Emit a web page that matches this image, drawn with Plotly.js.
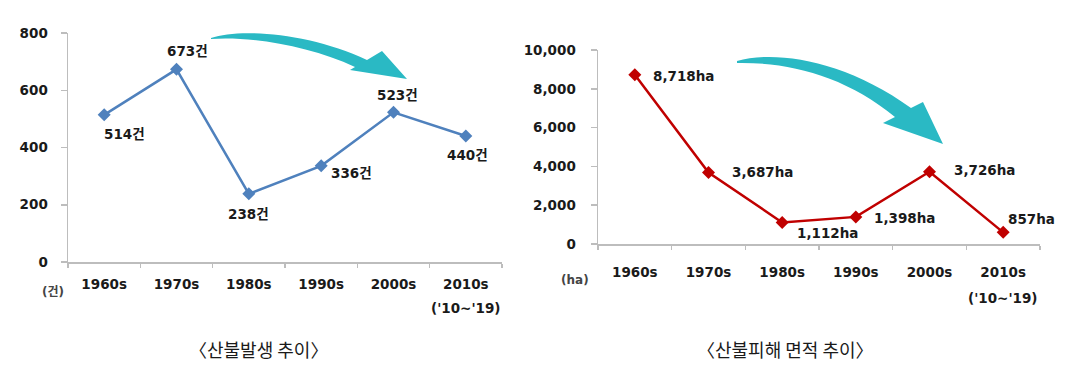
<!DOCTYPE html>
<html>
<head>
<meta charset="utf-8">
<script src="https://cdn.plot.ly/plotly-3.0.1.min.js"></script>
<style>html,body{margin:0;padding:0;background:#fff;}#chart{width:1071px;height:371px;}</style>
</head>
<body>
<div id="chart"></div>
<script>
// ---- data ----
const categories = ['1960s', '1970s', '1980s', '1990s', '2000s', '2010s'];
const periodNote = "('10~'19)";
const fireCounts = [514, 673, 238, 336, 523, 440];
const fireCountLabels = ['514건', '673건', '238건', '336건', '523건', '440건'];
// plotted positions (last point is drawn near 600 although labelled 857ha)
const damageArea = [8718, 3687, 1112, 1398, 3726, 600];
const damageLabels = ['8,718ha', '3,687ha', '1,112ha', '1,398ha', '3,726ha', '857ha'];
const leftTicks = [0, 200, 400, 600, 800];
const rightTicks = [0, 2000, 4000, 6000, 8000, 10000];
const leftUnit = '(건)';
const rightUnit = '(ha)';
const leftCaption = '〈산불발생 추이〉';
const rightCaption = '〈산불피해 면적 추이〉';

// ---- layout helpers ----
const W = 1071, H = 371;
const NUMFONT = '"DejaVu Sans", "Noto Sans CJK KR", sans-serif';
const CAPFONT = '"Noto Sans CJK KR", "Noto Sans", sans-serif';
const px = x => x / W;
const py = y => 1 - y / H;
function pathPx(cmds) {
  return cmds.map(c => {
    const L = c[0]; const pts = [];
    for (let i = 1; i < c.length; i += 2) pts.push(px(c[i]).toFixed(5) + ',' + py(c[i + 1]).toFixed(5));
    return L + ' ' + pts.join(' ');
  }).join(' ') + ' Z';
}

const leftOffsets = [[20, -19], [11, 18], [0, -20], [30, -7], [4, 17], [2, -19]];
const rightOffsets = [[16, -1], [21, 0], [13, -11], [16, -1], [22, 2], [3, 13]];

const blue = '#4F81BD';
const red = '#C00000';
const teal = '#2AB9C4';
const axisGray = '#BDBDBD';
const textCol = '#1a1a1a';
const numFont = {family: NUMFONT, size: 13.5, color: textCol, weight: 'bold'};

const traces = [
  {
    x: categories, y: fireCounts, type: 'scatter', mode: 'lines+markers',
    xaxis: 'x', yaxis: 'y',
    line: {color: blue, width: 2.5},
    marker: {symbol: 'diamond', size: 10, color: blue},
    hoverinfo: 'skip'
  },
  {
    x: categories, y: damageArea, type: 'scatter', mode: 'lines+markers',
    xaxis: 'x2', yaxis: 'y2',
    line: {color: red, width: 2.5},
    marker: {symbol: 'diamond', size: 10, color: red},
    hoverinfo: 'skip'
  }
];

const annotations = [];
categories.forEach((c, i) => {
  annotations.push({
    x: c, y: fireCounts[i], xref: 'x', yref: 'y', text: fireCountLabels[i],
    showarrow: false, xanchor: 'center', yanchor: 'middle',
    xshift: leftOffsets[i][0], yshift: leftOffsets[i][1], font: numFont
  });
  annotations.push({
    x: c, y: damageArea[i], xref: 'x2', yref: 'y2', text: damageLabels[i],
    showarrow: false, xanchor: 'left', yanchor: 'middle',
    xshift: rightOffsets[i][0], yshift: rightOffsets[i][1], font: numFont
  });
});
annotations.push({x: categories[5], y: py(308), xref: 'x', yref: 'paper', text: periodNote, showarrow: false,
  xanchor: 'center', yanchor: 'middle', font: numFont});
annotations.push({x: categories[5], y: py(298), xref: 'x2', yref: 'paper', text: periodNote, showarrow: false,
  xanchor: 'center', yanchor: 'middle', font: numFont});
annotations.push({x: px(53), y: py(292), xref: 'paper', yref: 'paper', text: leftUnit, showarrow: false,
  xanchor: 'center', yanchor: 'middle', font: {family: NUMFONT, size: 12, color: '#444', weight: 'bold'}});
annotations.push({x: px(575), y: py(280), xref: 'paper', yref: 'paper', text: rightUnit, showarrow: false,
  xanchor: 'center', yanchor: 'middle', font: {family: NUMFONT, size: 12, color: '#444', weight: 'bold'}});
annotations.push({x: px(258), y: py(349), xref: 'paper', yref: 'paper', text: leftCaption, showarrow: false,
  xanchor: 'center', yanchor: 'middle', font: {family: CAPFONT, size: 18, color: '#1a1a1a'}});
annotations.push({x: px(786), y: py(349), xref: 'paper', yref: 'paper', text: rightCaption, showarrow: false,
  xanchor: 'center', yanchor: 'middle', font: {family: CAPFONT, size: 18, color: '#1a1a1a'}});

const arrowLeft = pathPx([
  ['M', 211, 38],
  ['C', 240, 28, 310, 33, 367, 60],
  ['L', 382, 51],
  ['L', 407, 79],
  ['L', 350, 70],
  ['L', 355, 67],
  ['C', 310, 46, 250, 36, 211, 39]
]);
const arrowRight = pathPx([
  ['M', 737, 61],
  ['C', 775, 50, 845, 60, 911, 108],
  ['L', 923, 102],
  ['L', 943, 144],
  ['L', 883, 123],
  ['L', 895, 117],
  ['C', 845, 76, 790, 62, 737, 63]
]);

const shapes = [
  {type: 'path', path: arrowLeft, xref: 'paper', yref: 'paper', fillcolor: teal, line: {width: 0}},
  {type: 'path', path: arrowRight, xref: 'paper', yref: 'paper', fillcolor: teal, line: {width: 0}}
];

const xaxisBase = {
  type: 'category', range: [-0.5, 5.5], showgrid: false, zeroline: false,
  showline: true, linecolor: axisGray, linewidth: 1.5,
  ticks: 'outside', tickson: 'boundaries', ticklen: 4, tickcolor: axisGray, tickwidth: 1.5,
  tickfont: numFont, fixedrange: true
};
const yaxisBase = {
  showgrid: false, zeroline: false, showline: true, linecolor: axisGray, linewidth: 1.5,
  ticks: 'outside', ticklen: 6, tickcolor: axisGray, tickwidth: 1.5,
  tickfont: numFont, fixedrange: true
};

const layout = {
  width: W, height: H,
  margin: {l: 0, r: 0, t: 0, b: 0},
  paper_bgcolor: '#fff', plot_bgcolor: 'rgba(0,0,0,0)',
  showlegend: false,
  xaxis: Object.assign({}, xaxisBase, {domain: [px(68), px(502)], anchor: 'y', ticklabelstandoff: 9}),
  yaxis: Object.assign({}, yaxisBase, {domain: [py(262), py(33)], anchor: 'x', range: [0, 800],
    tickvals: leftTicks, ticklabelstandoff: 10}),
  xaxis2: Object.assign({}, xaxisBase, {domain: [px(598), px(1040)], anchor: 'y2', ticklabelstandoff: 15}),
  yaxis2: Object.assign({}, yaxisBase, {domain: [py(244), py(50)], anchor: 'x2', range: [0, 10000],
    tickvals: rightTicks, tickformat: ',', ticklabelstandoff: 12}),
  annotations: annotations,
  shapes: shapes
};

Plotly.newPlot('chart', traces, layout, {staticPlot: true, displayModeBar: false});
</script>
</body>
</html>
